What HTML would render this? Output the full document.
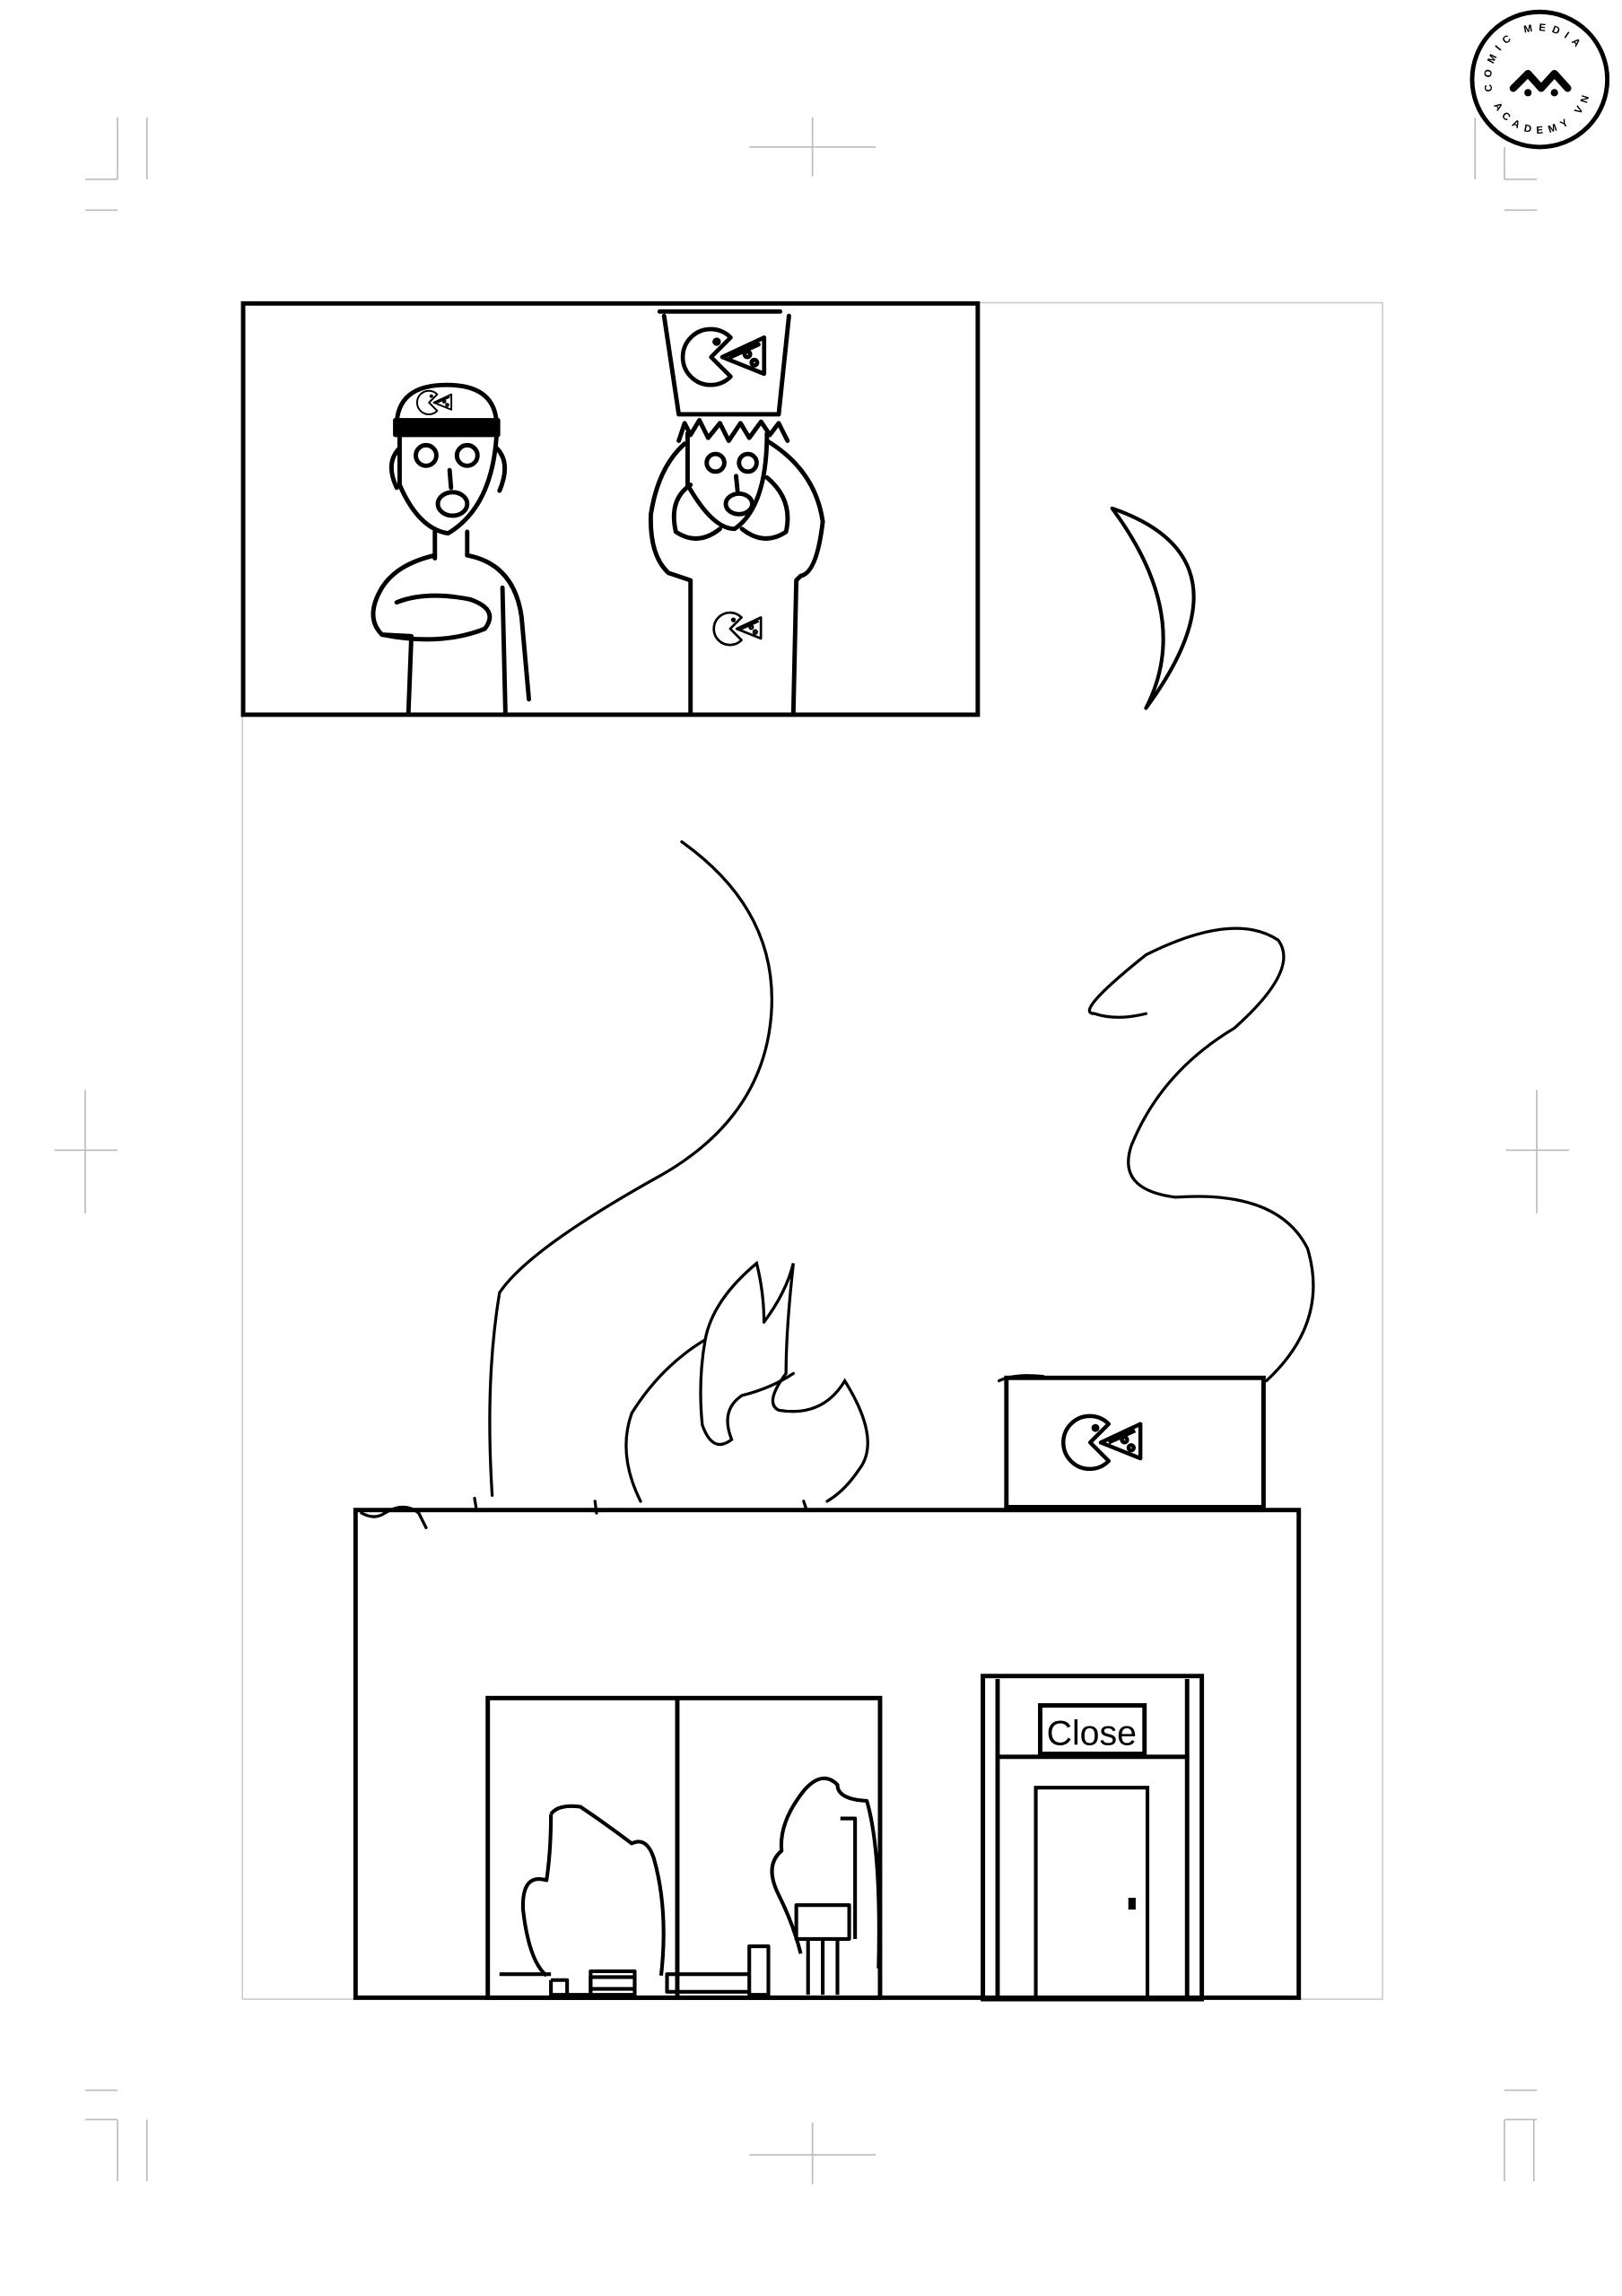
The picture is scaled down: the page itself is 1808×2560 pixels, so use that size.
<!DOCTYPE html>
<html><head><meta charset="utf-8"><style>
html,body{margin:0;padding:0;background:#fff;}
svg{display:block;}
</style></head><body>
<svg width="1808" height="2560" viewBox="0 0 1104 1563" xmlns="http://www.w3.org/2000/svg">
<defs>
<g id="pac" fill="none" stroke="#000" stroke-width="3" stroke-linejoin="round">
<path d="M14,-14 A20 20 0 1 0 14,14 L0,0 Z"/>
<circle cx="4" cy="-11" r="1.5" fill="#000"/>
<path d="M8,0 L38,-14 L38,12 Z"/>
<path d="M14,0 L34,-9"/>
<circle cx="26" cy="-2" r="2"/><circle cx="31" cy="4" r="2"/>
</g>
</defs>
<g stroke="#bbb" stroke-width="1" fill="none">
<path d="M80,80V122 M100,80V122 M58,122H80 M58,143H80"/>
<path d="M1004,80V122 M1024,100V122 M1024,122H1046 M1024,143H1046"/>
<path d="M510,100H596 M553,80V120"/>
<path d="M37,783H80 M58,742V826"/>
<path d="M1025,783H1068 M1046,742V826"/>
<path d="M80,1443V1485 M100,1443V1485 M58,1423H80 M58,1443H80"/>
<path d="M1024,1443V1485 M1044,1443V1485 M1024,1423H1046 M1024,1443H1046"/>
<path d="M510,1467H596 M553,1445V1487"/>
<rect x="165" y="206" width="776" height="1155" stroke="#ccc"/>
</g>
<g>
<circle cx="1048" cy="54" r="46" fill="#fff" stroke="#000" stroke-width="3"/>
<path d="M1030,60 L1040,50 L1049,60 L1058,50 L1067,60" fill="none" stroke="#000" stroke-width="5" stroke-linejoin="round" stroke-linecap="round"/>
<circle cx="1040" cy="63" r="2.5"/><circle cx="1058" cy="63" r="2.5"/>
<path id="arcT" d="M1016,62 A33 33 0 1 1 1080,62" fill="none"/>
<path id="arcB" d="M1014,64 A35 35 0 0 0 1082,64" fill="none"/>
<text font-family="Liberation Sans,sans-serif" font-size="7" font-weight="bold" letter-spacing="4"><textPath href="#arcT">COMIC MEDIA</textPath></text>
<text font-family="Liberation Sans,sans-serif" font-size="7" font-weight="bold" letter-spacing="4"><textPath href="#arcB" startOffset="8">ACADEMY VN</textPath></text>
</g>
<rect x="165.5" y="206.5" width="500" height="280" fill="none" stroke="#000" stroke-width="3"/>
<g fill="none" stroke="#000" stroke-width="3" stroke-linejoin="round" stroke-linecap="round">
<!-- left character -->
<path d="M270,290 Q270,262 304,262 Q338,262 338,290 Z" fill="#fff"/>
<rect x="269" y="286" width="70" height="10" fill="#000"/>
<path d="M272,296 L272,330 Q285,360 305,363 Q335,345 338,296"/>
<path d="M272,305 Q262,315 270,332 M338,305 Q348,315 340,334"/>
<circle cx="290" cy="310" r="7"/><circle cx="318" cy="310" r="7"/>
<ellipse cx="308" cy="343" rx="10" ry="8"/>
<path d="M306,320 L307,332"/>
<path d="M296,362 V380 M318,362 V378"/>
<path d="M296,378 Q270,384 260,400 Q248,420 260,432 L280,433 L278,485 M318,378 Q350,384 355,420 L360,476 M342,400 L344,485"/>
<path d="M260,432 Q300,440 330,428 Q340,415 320,408 Q290,402 270,410"/>
<use href="#pac" transform="translate(292,274) scale(0.4)"/>
<!-- right character -->
<path d="M449,212 H531 M452,215 L462,282 H530 L537,215"/>
<use href="#pac" transform="translate(484,243) scale(0.95)"/>
<path d="M462,300 L466,288 L470,296 L476,286 L482,298 L490,288 L496,300 L504,288 L510,298 L518,287 L524,296 L530,288 L536,300"/>
<path d="M468,295 L468,330 Q485,360 500,360 Q522,345 522,295"/>
<circle cx="487" cy="315" r="6"/><circle cx="509" cy="315" r="6"/>
<ellipse cx="503" cy="343" rx="9" ry="7"/>
<path d="M501,324 L502,334"/>
<path d="M466,302 Q448,318 443,350 Q442,378 455,390 L470,395 L470,485 M522,300 Q555,320 560,355 Q556,390 545,392 L542,395 L540,485"/>
<path d="M470,330 Q455,340 460,362 Q475,372 490,360 M522,325 Q540,340 535,362 Q520,372 505,360"/>
<use href="#pac" transform="translate(497,428) scale(0.55)"/>
</g>
<!-- moon -->
<path d="M757,346 Q855,380 780,482 Q812,420 757,346 Z" fill="none" stroke="#000" stroke-width="2.5" stroke-linejoin="round"/>
<g fill="none" stroke="#000" stroke-width="2" stroke-linecap="round">
<path d="M464,573 Q530,620 525,690 Q520,760 450,800 Q360,850 340,880 Q330,940 335,1018"/>
<path d="M862,940 Q905,900 890,850 Q870,810 800,815 Q760,810 770,780 Q790,730 840,700 Q885,660 870,640 Q840,620 780,650 Q730,690 745,690 Q760,695 780,690"/>
<path d="M436,1022 Q420,990 430,962 Q450,930 480,912 Q475,940 478,970 Q485,990 498,980 Q490,960 505,950 Q525,945 540,935"/>
<path d="M480,912 Q485,885 515,860 Q520,880 520,900"/>
<path d="M520,900 Q535,880 540,860 Q535,905 535,935 Q520,955 530,960 Q560,965 575,940 Q600,980 585,1000 Q575,1015 563,1022"/>
<path d="M262,1030 Q275,1022 285,1030 L290,1040 M246,1030 Q255,1035 262,1030 M323,1020 L324,1026 M405,1022 L406,1030 M547,1022 L549,1028 M680,940 Q690,935 710,937"/>
</g>
<g fill="none" stroke="#000" stroke-width="3">
<rect x="242" y="1028" width="642" height="332"/>
<rect x="685" y="938" width="175" height="88"/>
<rect x="332" y="1156" width="267" height="204"/>
<path d="M461,1157 V1360"/>
<rect x="669" y="1141" width="149" height="220"/>
<path d="M679,1143 V1360 M808,1143 V1361 M679,1196 H808"/>
<rect x="708" y="1161" width="71" height="33"/>
<rect x="705" y="1217" width="76" height="143" stroke-width="2.5"/>
</g>
<rect x="768" y="1292" width="5" height="8"/>
<text x="743" y="1188" font-family="Liberation Sans,sans-serif" font-size="24" text-anchor="middle">Close</text>
<use href="#pac" transform="translate(742,982) scale(0.9)"/>
<g fill="none" stroke="#000" stroke-width="2.5" stroke-linejoin="round">
<path d="M375,1235 Q380,1228 395,1230 Q410,1240 430,1255 Q440,1250 445,1265 Q455,1300 450,1345 M375,1235 Q375,1260 372,1280 Q355,1275 356,1300 Q360,1335 372,1345"/>
<path d="M548,1218 Q560,1205 570,1215 Q570,1225 590,1226 Q600,1260 598,1340 M548,1218 Q530,1240 532,1260 Q520,1270 530,1290 Q540,1310 545,1330"/>
<path d="M375,1348 V1358 H402 V1342 H432 V1354 H402 M375,1348 H386 V1358 M340,1344 H375"/>
<path d="M402,1346 H432 V1358 H402 Z"/>
<path d="M454,1344 H510 V1356 H454 Z M510,1325 H523 V1358 H510 Z"/>
<path d="M542,1297 H578 V1320 H542 Z M572,1238 H582 V1320 M550,1320 V1358 M560,1320 V1358 M570,1320 V1358"/>
</g>
</svg>
</body></html>
